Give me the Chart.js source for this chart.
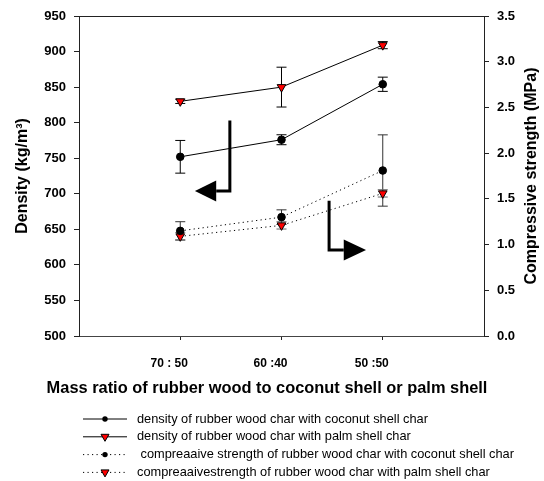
<!DOCTYPE html>
<html>
<head>
<meta charset="utf-8">
<script src="https://cdn.jsdelivr.net/npm/chart.js@4/dist/chart.umd.min.js"></script>
<style>
  html, body { margin: 0; padding: 0; background: #fff; }
  #wrap { width: 544px; height: 481px; }
</style>
</head>
<body>
<div id="wrap"><canvas id="graph"></canvas></div>
<script>
// rapports massiques (axe x)
const categories = ['70 : 50', '60 :40', '50 :50'];
const positions = [1, 2, 3];

// densité (kg/m3), axe gauche
const densityCoconut = [752, 776, 854];
const densityCoconutErr = [23, 7, 10];
const densityPalm = [830, 850, 909];
const densityPalmErr = [3, 28, 5];

// résistance à la compression (MPa), axe droit
const strengthCoconut = [1.15, 1.30, 1.81];
const strengthCoconutErr = [0.10, 0.08, 0.39];
const strengthPalm = [1.09, 1.21, 1.56];
const strengthPalmErr = [0.04, 0.04, 0.04];

const legendLabels = [
    'density of rubber wood char with coconut shell char',
    'density of rubber wood char with palm shell char',
    ' compreaaive strength of rubber wood char with coconut shell char',
    'compreaaivestrength of rubber wood char with palm shell char',
];

const FONT = 'Liberation Sans, Arial, Helvetica, sans-serif';
const DOT = [1.2, 3.3];

const toPoints = (vals) => vals.map((v, i) => ({x: positions[i], y: v}));

function serie(label, vals, err, axis, style, dotted, errColor) {
    const tri = style === 'tri';
    return {
        label: label,
        data: toPoints(vals),
        err: err,
        errColor: errColor,
        yAxisID: axis,
        borderColor: '#000',
        borderWidth: 1,
        borderDash: dotted ? DOT : [],
        pointStyle: tri ? 'triangle' : 'circle',
        pointRotation: tri ? 180 : 0,
        pointRadius: tri ? 5 : 3.8,
        pointBackgroundColor: tri ? '#ff0000' : '#000',
        pointBorderColor: '#000',
        pointBorderWidth: 1,
        tension: 0,
    };
}

// barres d'erreur
const errorBars = {
    id: 'errorBars',
    beforeDatasetsDraw(chart) {
        const ctx = chart.ctx;
        ctx.save();
        chart.data.datasets.forEach((ds, di) => {
            const meta = chart.getDatasetMeta(di);
            const ys = chart.scales[ds.yAxisID];
            ds.data.forEach((p, i) => {
                const x = meta.data[i].x;
                const top = ys.getPixelForValue(p.y + ds.err[i]);
                const bot = ys.getPixelForValue(p.y - ds.err[i]);
                ctx.strokeStyle = ds.errColor;
                ctx.lineWidth = 1;
                ctx.beginPath();
                ctx.moveTo(x, top); ctx.lineTo(x, bot);
                ctx.moveTo(x - 5, top); ctx.lineTo(x + 5, top);
                ctx.moveTo(x - 5, bot); ctx.lineTo(x + 5, bot);
                ctx.stroke();
            });
        });
        ctx.restore();
    }
};

// cadre + flèches + titres + légende
const extras = {
    id: 'extras',
    afterDraw(chart) {
        const ctx = chart.ctx;
        const a = chart.chartArea;
        const xs = chart.scales.x, yl = chart.scales.y, yr = chart.scales.y1;
        ctx.save();
        // bord du haut
        ctx.strokeStyle = '#222';
        ctx.lineWidth = 1;
        ctx.beginPath();
        ctx.moveTo(a.left, a.top + 0.5); ctx.lineTo(a.right, a.top + 0.5);
        ctx.stroke();

        // titre de l'axe x (plus large que la zone du graphique)
        ctx.font = 'bold 16.4px ' + FONT;
        ctx.fillStyle = '#000';
        ctx.textAlign = 'center';
        ctx.textBaseline = 'middle';
        ctx.fillText('Mass ratio of rubber wood to coconut shell or palm shell', 267, 388);

        // titre de l'axe droit (lu de bas en haut)
        ctx.save();
        ctx.translate(532, (a.top + a.bottom) / 2);
        ctx.rotate(-Math.PI / 2);
        ctx.font = 'bold 16px ' + FONT;
        ctx.fillText('Compressive strength (MPa)', 0, 0);
        ctx.restore();

        // flèche vers l'axe gauche
        ctx.strokeStyle = '#000';
        ctx.lineWidth = 3;
        let x0 = xs.getPixelForValue(1.49), ya = yl.getPixelForValue(803), yb = yl.getPixelForValue(704);
        let xb = xs.getPixelForValue(1.355), xt = xs.getPixelForValue(1.145);
        ctx.beginPath();
        ctx.moveTo(x0, ya); ctx.lineTo(x0, yb); ctx.lineTo(xb, yb);
        ctx.stroke();
        ctx.beginPath();
        ctx.moveTo(xt, yb); ctx.lineTo(xb, yb - 10.5); ctx.lineTo(xb, yb + 10.5); ctx.closePath();
        ctx.fill();

        // flèche vers l'axe droit
        x0 = xs.getPixelForValue(2.47); ya = yr.getPixelForValue(1.48); yb = yr.getPixelForValue(0.94);
        xb = xs.getPixelForValue(2.615); xt = xs.getPixelForValue(2.835);
        ctx.beginPath();
        ctx.moveTo(x0, ya); ctx.lineTo(x0, yb); ctx.lineTo(xb, yb);
        ctx.stroke();
        ctx.beginPath();
        ctx.moveTo(xt, yb); ctx.lineTo(xb, yb - 10.5); ctx.lineTo(xb, yb + 10.5); ctx.closePath();
        ctx.fill();

        // légende
        ctx.font = '12.8px ' + FONT;
        ctx.textAlign = 'left';
        ctx.textBaseline = 'middle';
        chart.data.datasets.forEach((ds, i) => {
            const y = 419 + i * 17.8;
            ctx.strokeStyle = '#000';
            ctx.lineWidth = 1;
            ctx.setLineDash(ds.borderDash);
            ctx.beginPath();
            ctx.moveTo(83, y); ctx.lineTo(127, y);
            ctx.stroke();
            ctx.setLineDash([]);
            ctx.fillStyle = ds.pointBackgroundColor;
            ctx.beginPath();
            if (ds.pointStyle === 'triangle') {
                ctx.moveTo(105, y + 4.5); ctx.lineTo(101, y - 2.5); ctx.lineTo(109, y - 2.5); ctx.closePath();
                ctx.fill(); ctx.stroke();
            } else {
                ctx.arc(105, y, 2.7, 0, Math.PI * 2);
                ctx.fill();
            }
            ctx.fillStyle = '#000';
            ctx.fillText(legendLabels[i], 137, y);
        });
        ctx.restore();
    }
};

const ctx = document.getElementById('graph');

new Chart(ctx, {
    type: 'line',
    data: {
        datasets: [
            serie(legendLabels[0], densityCoconut, densityCoconutErr, 'y', 'dot', false, '#000'),
            serie(legendLabels[1], densityPalm, densityPalmErr, 'y', 'tri', false, '#000'),
            serie(legendLabels[2], strengthCoconut, strengthCoconutErr, 'y1', 'dot', true, '#333'),
            serie(legendLabels[3], strengthPalm, strengthPalmErr, 'y1', 'tri', true, '#666'),
        ]
    },
    plugins: [errorBars, extras],
    options: {
        responsive: true,
        maintainAspectRatio: false,
        animation: false,
        layout: {
            padding: {top: 16, left: 0, right: 0, bottom: 70}
        },
        scales: {
            x: {
                type: 'linear',
                min: 0,
                max: 4,
                afterBuildTicks: (scale) => { scale.ticks = positions.map(v => ({value: v})); },
                afterFit: (scale) => { scale.height = 75; },
                border: {color: '#444', width: 1},
                grid: {drawOnChartArea: false, drawTicks: true, tickLength: 4, color: '#222'},
                ticks: {
                    padding: 16,
                    labelOffset: -11,
                    color: '#000',
                    font: {family: FONT, size: 12, weight: 'bold'},
                    callback: (v) => categories[positions.indexOf(v)],
                },
                title: {display: false},
            },
            y: {
                position: 'left',
                min: 500,
                max: 950,
                afterFit: (scale) => { scale.width = 79; },
                border: {color: '#222', width: 1},
                grid: {drawOnChartArea: false, drawTicks: true, tickLength: 5, color: '#222'},
                ticks: {
                    stepSize: 50,
                    padding: 8,
                    color: '#000',
                    font: {family: FONT, size: 13, weight: 'bold'},
                },
                title: {
                    display: true,
                    text: 'Density (kg/m³)',
                    color: '#000',
                    font: {family: FONT, size: 16, weight: 'bold'},
                    padding: {top: 13, bottom: 0},
                },
            },
            y1: {
                position: 'right',
                min: 0,
                max: 3.5,
                afterFit: (scale) => { scale.width = 60; },
                border: {color: '#222', width: 1},
                grid: {drawOnChartArea: false, drawTicks: true, tickLength: 5, color: '#222'},
                ticks: {
                    stepSize: 0.5,
                    padding: 8,
                    color: '#000',
                    font: {family: FONT, size: 13, weight: 'bold'},
                    callback: (v) => v.toFixed(1),
                },
                title: {display: false},
            },
        },
        plugins: {
            legend: {display: false},
            tooltip: {enabled: false},
        }
    }
});
</script>
</body>
</html>
